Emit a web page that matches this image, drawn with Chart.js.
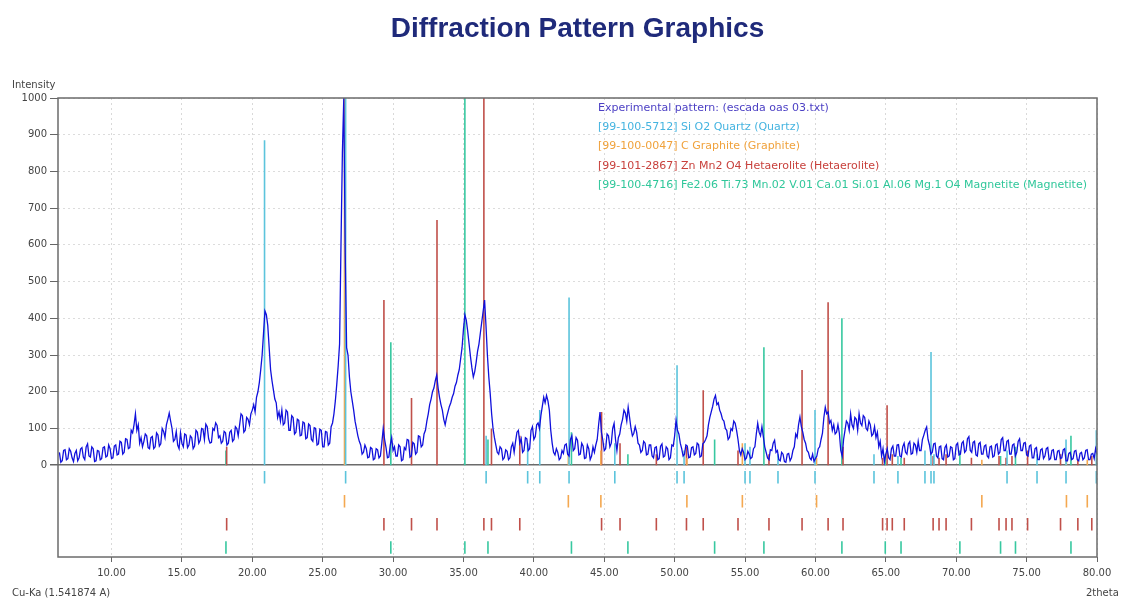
<!DOCTYPE html>
<html>
<head>
<meta charset="utf-8">
<script src="https://cdn.jsdelivr.net/npm/chart.js@4.4.0/dist/chart.umd.min.js"></script>
<style>
  html, body { margin: 0; padding: 0; background: #fff; }
</style>
</head>
<body>
<canvas id="myChart" width="1124" height="601"></canvas>
<script>
chartTitle = "Diffraction Pattern Graphics";
legendLines = [
  "Experimental pattern: (escada oas 03.txt)",
  "[99-100-5712] Si O2 Quartz (Quartz)",
  "[99-100-0047] C Graphite (Graphite)",
  "[99-101-2867] Zn Mn2 O4 Hetaerolite (Hetaerolite)",
  "[99-100-4716] Fe2.06 Ti.73 Mn.02 V.01 Ca.01 Si.01 Al.06 Mg.1 O4 Magnetite (Magnetite)"
];
legendColors = ["#4b3fc4", "#45b4e0", "#f0a23c", "#c8413c", "#2fc79a"];

// experimental pattern, 2theta from 6.3 in steps of 0.1 (one row = 2 degrees)
patternStart = 6.3;
patternStep = 0.1;
patternCounts = [
  35, 8, 12, 40, 42, 15, 18, 45, 38, 20, 10, 32, 40, 12, 20, 44, 48, 22, 15, 50,
  58, 25, 22, 50, 45, 10, 12, 40, 38, 15, 18, 48, 50, 22, 25, 55, 45, 18, 20, 52,
  55, 28, 30, 65, 62, 30, 35, 72, 70, 45, 48, 95, 88, 110, 140, 95, 110, 60, 75, 50,
  65, 85, 80, 48, 45, 75, 78, 45, 50, 88, 82, 52, 58, 100, 92, 75, 110, 125, 142, 120,
  100, 65, 70, 92, 55, 45, 88, 60, 50, 85, 82, 48, 55, 80, 75, 45, 52, 95, 90, 60,
  68, 100, 98, 70, 112, 105, 72, 60, 62, 100, 95, 115, 108, 75, 80, 60, 65, 92, 88, 55,
  60, 90, 95, 65, 70, 105, 100, 80, 110, 140, 135, 90, 95, 130, 125, 110, 140, 150, 165, 145,
  185, 200, 225, 260, 300, 360, 420, 410, 380, 320, 260, 230, 205, 180, 170, 130, 145, 120, 150, 110,
  115, 150, 145, 95, 95, 135, 130, 85, 90, 125, 122, 80, 82, 118, 115, 72, 75, 112, 108, 70,
  65, 102, 100, 55, 58, 98, 95, 50, 50, 92, 90, 55, 60, 105, 115, 140, 175, 220, 270, 330,
  600, 850, 1000, 580, 320, 300, 240, 200, 175, 150, 120, 100, 80, 65, 55, 30, 35, 55, 45, 20,
  22, 48, 45, 15, 18, 45, 42, 20, 25, 60, 100, 70, 48, 20, 22, 55, 75, 40, 50, 25,
  25, 55, 50, 12, 15, 48, 42, 70, 68, 22, 25, 62, 58, 30, 35, 80, 78, 50, 55, 85,
  95, 120, 140, 165, 180, 200, 210, 230, 245, 210, 185, 165, 150, 125, 110, 130, 145, 160, 170, 185,
  195, 215, 225, 245, 260, 290, 320, 370, 410, 395, 365, 330, 295, 265, 240, 255, 280, 310, 330, 360,
  390, 420, 450, 380, 300, 240, 195, 140, 100, 75, 55, 35, 30, 50, 45, 15, 20, 42, 38, 15,
  20, 50, 60, 35, 65, 90, 95, 60, 72, 35, 40, 75, 72, 40, 45, 95, 105, 70, 78, 110,
  115, 100, 135, 160, 185, 170, 190, 175, 150, 95, 60, 35, 28, 45, 35, 15, 20, 40, 32, 55,
  58, 30, 25, 70, 80, 40, 45, 75, 68, 28, 30, 60, 52, 18, 20, 55, 45, 15, 25, 50,
  35, 55, 70, 110, 145, 90, 68, 40, 45, 85, 80, 50, 60, 100, 114, 70, 40, 75, 85, 110,
  125, 150, 142, 120, 158, 130, 100, 80, 87, 105, 90, 60, 55, 35, 40, 65, 60, 28, 30, 55,
  55, 25, 20, 48, 50, 15, 18, 52, 58, 22, 25, 50, 45, 15, 20, 55, 52, 80, 122, 95,
  85, 60, 45, 25, 30, 55, 52, 20, 22, 48, 50, 28, 32, 60, 56, 22, 25, 58, 62, 70,
  80, 110, 130, 145, 160, 180, 190, 165, 170, 150, 140, 125, 120, 100, 95, 70, 76, 100, 95, 120,
  114, 95, 70, 40, 28, 45, 35, 15, 20, 38, 30, 18, 22, 45, 50, 85, 114, 90, 80, 105,
  78, 50, 35, 20, 15, 42, 40, 60, 68, 35, 40, 15, 12, 35, 30, 10, 8, 30, 32, 12,
  20, 40, 50, 85, 76, 110, 131, 105, 90, 70, 60, 40, 35, 20, 15, 30, 10, 18, 25, 45,
  50, 70, 87, 130, 158, 140, 145, 115, 122, 95, 110, 85, 90, 110, 87, 40, 25, 70, 95, 120,
  114, 95, 140, 110, 100, 130, 125, 95, 140, 115, 108, 135, 130, 100, 95, 120, 110, 80, 85, 105,
  75, 90, 50, 65, 25, 45, 10, 30, 45, 20, 15, 45, 52, 25, 25, 55, 56, 25, 22, 50,
  60, 35, 30, 58, 64, 30, 32, 60, 55, 35, 65, 40, 40, 70, 82, 95, 104, 70, 55, 30,
  35, 58, 60, 25, 20, 50, 52, 18, 15, 48, 55, 22, 25, 50, 48, 15, 18, 55, 60, 28,
  30, 60, 65, 35, 40, 72, 78, 40, 35, 62, 65, 28, 25, 58, 62, 30, 30, 52, 55, 25,
  20, 50, 52, 22, 25, 55, 58, 30, 35, 70, 75, 40, 40, 65, 68, 30, 30, 55, 58, 25,
  35, 65, 72, 40, 40, 60, 62, 28, 25, 52, 55, 20, 20, 45, 48, 15, 15, 42, 45, 18,
  25, 45, 48, 15, 18, 40, 42, 15, 15, 38, 40, 18, 20, 42, 45, 12, 12, 32, 35, 15,
  18, 38, 40, 15, 12, 32, 35, 15, 20, 40, 42, 15, 15, 30, 32, 18, 45, 30
];

// reference peaks: positions (2theta) and relative intensities
quartzPos = [20.87, 26.63, 36.61, 39.56, 40.42, 42.50, 45.75, 50.17, 50.67, 55.00, 55.35, 57.34, 59.97, 64.16, 65.86, 67.78, 68.21, 68.42, 73.61, 75.74, 77.80, 79.95];
quartzInt = [885, 1000, 80, 60, 150, 457, 60, 272, 40, 60, 50, 30, 150, 30, 25, 40, 308, 30, 40, 30, 70, 95];

graphitePos = [26.55, 42.45, 44.76, 50.87, 54.81, 60.08, 71.82, 77.83, 79.31];
graphiteInt = [1000, 30, 40, 20, 60, 20, 15, 30, 15];

hetaerolitePos = [18.18, 29.35, 31.31, 33.12, 36.45, 36.99, 39.00, 44.81, 46.12, 48.70, 50.84, 52.03, 54.50, 56.70, 59.05, 60.90, 61.96, 64.77, 65.09, 65.46, 66.31, 68.36, 68.78, 69.28, 71.08, 73.04, 73.54, 73.96, 75.07, 77.41, 78.64, 79.63];
hetaeroliteInt = [50, 450, 183, 668, 1000, 100, 80, 145, 60, 30, 50, 204, 40, 30, 259, 444, 50, 20, 163, 30, 20, 25, 20, 30, 20, 25, 20, 25, 40, 30, 15, 25];

magnetitePos = [18.13, 29.84, 35.10, 36.74, 42.67, 46.68, 52.84, 56.34, 61.88, 64.96, 66.08, 70.26, 73.15, 74.21, 78.15];
magnetiteInt = [40, 335, 1000, 70, 90, 30, 70, 321, 400, 30, 20, 40, 25, 50, 80];

xTicks = [10, 15, 20, 25, 30, 35, 40, 45, 50, 55, 60, 65, 70, 75, 80];
yTicks = [0, 100, 200, 300, 400, 500, 600, 700, 800, 900, 1000];

function patternPoints() {
  return patternCounts.map((v, i) => ({ x: patternStart + i * patternStep, y: v }));
}

// vertical stick from 0 to intensity, plus a short mark in the phase row below the axis
function sticks(pos, inten, row) {
  const pts = [];
  pos.forEach((p, i) => {
    pts.push({ x: p, y: 0 }, { x: p, y: inten[i] }, { x: p, y: null });
    pts.push({ x: p, y: row + 17 }, { x: p, y: row - 17 }, { x: p, y: null });
  });
  return pts;
}

function stickSet(label, pos, inten, row, color) {
  return {
    label: label,
    data: sticks(pos, inten, row),
    borderColor: color,
    borderWidth: 1.6,
    pointRadius: 0,
    spanGaps: false,
    tension: 0
  };
}

const tickFont = { family: "DejaVu Sans", size: 10 };

const textPlugin = {
  id: "texts",
  afterDraw(chart) {
    const c = chart.ctx;
    const a = chart.chartArea;
    c.save();
    // frame
    c.strokeStyle = "#6b6b6b";
    c.lineWidth = 1.5;
    c.strokeRect(a.left, a.top, a.right - a.left, a.bottom - a.top);

    c.fillStyle = "#1f2a7a";
    c.font = 'bold 28px "Liberation Sans", Arial, sans-serif';
    c.textAlign = "center";
    c.textBaseline = "middle";
    c.fillText(chartTitle, (a.left + a.right) / 2, 29);

    c.font = '10px "DejaVu Sans"';
    c.textAlign = "left";
    c.fillStyle = "#444";
    c.fillText("Intensity", 12, 85);
    c.fillText("Cu-Ka (1.541874 A)", 12, 593);
    c.fillText("2theta", 1086, 593);

    c.font = '11px "DejaVu Sans"';
    legendLines.forEach((t, i) => {
      c.fillStyle = legendColors[i];
      c.fillText(t, 598, 108 + i * 19.3);
    });
    c.restore();
  }
};

new Chart(document.getElementById("myChart"), {
  type: "line",
  data: {
    datasets: [
      {
        label: "Experimental pattern",
        data: patternPoints(),
        borderColor: "#1010dc",
        borderWidth: 1.3,
        pointRadius: 0,
        tension: 0
      },
      stickSet("Quartz", quartzPos, quartzInt, -33, "#5cc4dc"),
      stickSet("Graphite", graphitePos, graphiteInt, -98, "#f4a850"),
      stickSet("Hetaerolite", hetaerolitePos, hetaeroliteInt, -161, "#c0504a"),
      stickSet("Magnetite", magnetitePos, magnetiteInt, -224, "#38c8a0")
    ]
  },
  options: {
    responsive: false,
    animation: false,
    layout: { padding: { left: 0, right: 27, top: 98, bottom: 0 } },
    plugins: {
      legend: { display: false },
      title: { display: false },
      tooltip: { enabled: false }
    },
    scales: {
      x: {
        type: "linear",
        min: 6.2,
        max: 80,
        afterBuildTicks: s => { s.ticks = xTicks.map(v => ({ value: v })); },
        afterFit: s => { s.height = 44; },
        ticks: {
          callback: v => v.toFixed(2),
          font: tickFont,
          color: "#444",
          padding: 5,
          maxRotation: 0,
          autoSkip: false
        },
        grid: { color: "#d9d9d9", lineWidth: 1, tickLength: 5, tickColor: "#666" },
        border: { display: false, dash: [2, 3] }
      },
      y: {
        min: -250,
        max: 1000,
        afterBuildTicks: s => { s.ticks = yTicks.map(v => ({ value: v })); },
        afterFit: s => { s.width = 58; },
        ticks: { callback: v => String(v), font: tickFont, color: "#444", padding: 3 },
        grid: {
          color: c => (c.tick && c.tick.value === 0 ? "#6b6b6b" : "#dcdcdc"),
          lineWidth: c => (c.tick && c.tick.value === 0 ? 1.5 : 1),
          tickLength: 8,
          tickColor: "#666"
        },
        border: {
          display: false,
          dash: c => (c.tick && c.tick.value === 0 ? [] : [2, 3])
        }
      }
    }
  },
  plugins: [textPlugin]
});
</script>
</body>
</html>
